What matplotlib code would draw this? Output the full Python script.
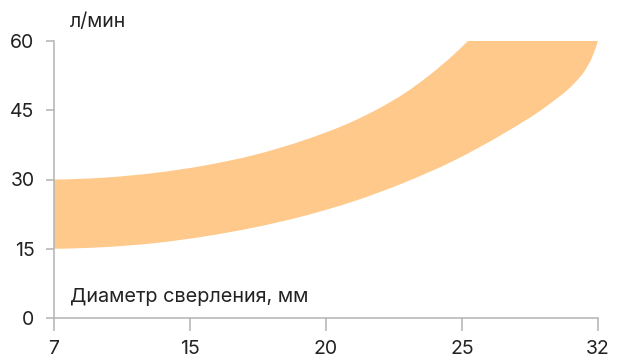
import matplotlib
matplotlib.use("Agg")
import matplotlib.pyplot as plt
import numpy as np
from matplotlib.path import Path
from matplotlib.patches import PathPatch

plt.rcParams['font.family'] = ['Inter', 'DejaVu Sans']

# diameters shown on the x axis (evenly spaced categories)
diameters = ["7", "15", "20", "25", "32"]
flow_ticks = [0, 15, 30, 45, 60]

# upper boundary of the flow range, l/min (curved part, then flat at 60)
upper_pos = [0.0, 0.368, 0.735, 1.103, 1.471, 1.838, 2.206, 2.390, 2.574,
             2.757, 2.941, 3.044]
upper_val = [30.0, 30.4, 31.4, 33.0, 35.3, 38.5, 42.7, 45.4, 48.6,
             52.5, 57.1, 60.0]
cap_pos = [3.044, 4.0]
cap_val = [60.0, 60.0]

# lower boundary of the flow range, l/min
lower_pos = [0.0, 0.368, 0.735, 1.103, 1.471, 1.838, 2.206, 2.574, 2.941,
             3.309, 3.632, 3.831, 3.904, 3.956, 4.0]
lower_val = [15.0, 15.35, 16.2, 17.65, 19.6, 22.1, 25.3, 29.3, 34.1,
             40.0, 46.1, 51.0, 53.6, 56.4, 60.0]

BAND = '#FEC98A'
AXIS = '#b3b3b3'
TEXT = '#222222'


def hermite_segments(xs, ys):
    # cubic Hermite through the points (slopes from neighbouring secants),
    # returned as Bezier pieces (p0, c1, c2, p1)
    x = np.asarray(xs, float)
    y = np.asarray(ys, float)
    h = np.diff(x)
    s = np.diff(y) / h
    m = np.empty_like(x)
    m[1:-1] = (s[:-1] * h[1:] + s[1:] * h[:-1]) / (h[:-1] + h[1:])
    m[0] = 2 * s[0] - m[1]
    m[-1] = 2 * s[-1] - m[-2]
    segs = []
    for i in range(len(h)):
        d = h[i] / 3.0
        segs.append(((x[i], y[i]),
                     (x[i] + d, y[i] + m[i] * d),
                     (x[i + 1] - d, y[i + 1] - m[i + 1] * d),
                     (x[i + 1], y[i + 1])))
    return segs


fig = plt.figure(figsize=(6.19, 3.59), dpi=100)
ax = fig.add_axes([0.0872, 0.1142, 0.8788, 0.7716])

# closed outline: along the upper edge, across the cap, back along the lower edge
verts = [(upper_pos[0], upper_val[0])]
codes = [Path.MOVETO]
for p0, c1, c2, p1 in hermite_segments(upper_pos, upper_val):
    verts += [c1, c2, p1]
    codes += [Path.CURVE4] * 3
verts.append((cap_pos[-1], cap_val[-1]))
codes.append(Path.LINETO)
for p0, c1, c2, p1 in reversed(hermite_segments(lower_pos, lower_val)):
    verts += [c2, c1, p0]
    codes += [Path.CURVE4] * 3
verts.append((upper_pos[0], upper_val[0]))
codes.append(Path.CLOSEPOLY)

band = PathPatch(Path(verts, codes), facecolor=BAND, edgecolor='none', zorder=1)
ax.add_patch(band)

ax.set_xlim(0, 4)
ax.set_ylim(0, 60)
ax.set_xticks(range(len(diameters)))
ax.set_xticklabels(diameters)
ax.set_yticks(flow_ticks)

for side in ('top', 'right'):
    ax.spines[side].set_visible(False)
for side in ('left', 'bottom'):
    ax.spines[side].set_color(AXIS)
    ax.spines[side].set_linewidth(1.1)

ax.tick_params(axis='x', length=9.5, width=1.1, color=AXIS, pad=6,
               labelsize=14, labelcolor=TEXT)
ax.tick_params(axis='y', length=6, width=1.1, color=AXIS, pad=8,
               labelsize=14, labelcolor=TEXT)

ax.text(0.03, 1.07, "л/мин", transform=ax.transAxes, fontsize=14,
        color=TEXT, ha='left', va='center')
ax.text(0.03, 0.075, "Диаметр сверления, мм", transform=ax.transAxes,
        fontsize=14.3, color=TEXT, ha='left', va='center')

fig.savefig("out.png", dpi=100)
